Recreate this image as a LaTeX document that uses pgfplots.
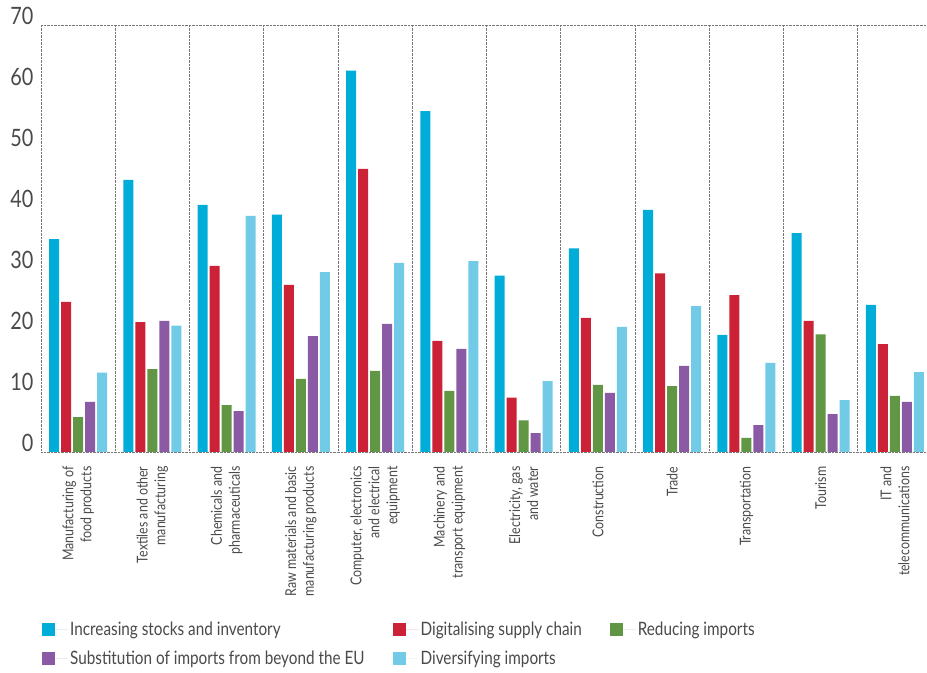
\documentclass[border=0pt]{standalone}
\usepackage{fontspec}
\setmainfont{Lato}[FakeStretch=0.83]
\usepackage{pgfplots}
\pgfplotsset{compat=1.18}
\definecolor{cA}{HTML}{00ADD8}
\definecolor{cB}{HTML}{CC2238}
\definecolor{cC}{HTML}{619645}
\definecolor{cD}{HTML}{8A5AA5}
\definecolor{cE}{HTML}{72CBE6}
\definecolor{txt}{HTML}{4A4A4A}
\definecolor{sep}{HTML}{777777}
\begin{document}
\begin{tikzpicture}
\begin{axis}[
  scale only axis, width=891bp, height=427bp,
  xmin=-0.5, xmax=11.5, ymin=0, ymax=70,
  ybar, bar width=0.135,
  axis line style={draw=none},
  major tick length=0pt, minor tick length=0pt,
  ytick={0,10,...,70},
  /pgf/number format/assume math mode=true,
  yticklabel style={font=\fontsize{24}{24}\selectfont, text=txt, anchor=base east, xshift=-4bp},
  xtick={0,...,11},
  xticklabels={{Manufacturing of\\food products},{Textiles and other\\manufacturing},{Chemicals and\\pharmaceuticals},{Raw materials and basic\\manufacturing products},{Computer, electronics\\and electrical\\equipment},{Machinery and\\transport equipment},{Electricity, gas\\and water},{Construction},{Trade},{Transportation},{Tourism},{IT and\\telecommunications}},
  xticklabel style={rotate=90, anchor=east, align=right, font=\fontsize{15}{18}\selectfont, text=txt, xshift=-11bp},
  minor xtick={-0.5,0.5,...,10.5},
  xminorgrids,
  minor grid style={densely dotted, sep, line width=0.9bp},
  extra y ticks={0,70}, extra y tick labels={},
  extra y tick style={ymajorgrids, major grid style={densely dotted, sep, line width=0.9bp}},
  legend columns=3,
  legend cell align=left,
  legend image code/.code={\fill[#1] (0bp,-6.5bp) rectangle (13bp,6.5bp); \path (0bp,0bp) -- (26bp,0bp);},
  legend style={at={(0,-0.392)}, anchor=north west, xshift=1bp, draw=none, inner sep=0pt, font=\fontsize{18.5}{20}\selectfont, text=txt, row sep=10bp,
    /tikz/every even column/.append style={column sep=26bp}},
]
\addplot[fill=cA, draw=none, bar shift=-0.324] coordinates {(0,34.9)(1,44.6)(2,40.5)(3,38.9)(4,62.5)(5,55.9)(6,28.9)(7,33.4)(8,39.7)(9,19.2)(10,35.9)(11,24.1)};
\addlegendentry{Increasing stocks and inventory}
\addplot[fill=cB, draw=none, bar shift=-0.162] coordinates {(0,24.6)(1,21.3)(2,30.5)(3,27.4)(4,46.4)(5,18.2)(6,8.9)(7,22.0)(8,29.3)(9,25.7)(10,21.5)(11,17.7)};
\addlegendentry{Digitalising supply chain}
\addplot[fill=cC, draw=none, bar shift=0] coordinates {(0,5.7)(1,13.6)(2,7.7)(3,12.0)(4,13.3)(5,10.0)(6,5.2)(7,11.0)(8,10.8)(9,2.3)(10,19.3)(11,9.2)};
\addlegendentry{Reducing imports}
\addplot[fill=cD, draw=none, bar shift=0.162] coordinates {(0,8.2)(1,21.5)(2,6.7)(3,19.0)(4,21.0)(5,16.9)(6,3.1)(7,9.7)(8,14.1)(9,4.4)(10,6.2)(11,8.2)};
\addlegendentry{Substitution of imports from beyond the EU}
\addplot[fill=cE, draw=none, bar shift=0.324] coordinates {(0,13.0)(1,20.7)(2,38.7)(3,29.5)(4,31.0)(5,31.3)(6,11.6)(7,20.5)(8,23.9)(9,14.6)(10,8.5)(11,13.1)};
\addlegendentry{Diversifying imports}
\end{axis}
\pgfresetboundingbox
\useasboundingbox ([xshift=-41bp,yshift=-221bp]current axis.south west) rectangle ([xshift=-5bp,yshift=25bp]current axis.north east);
\end{tikzpicture}
\end{document}
